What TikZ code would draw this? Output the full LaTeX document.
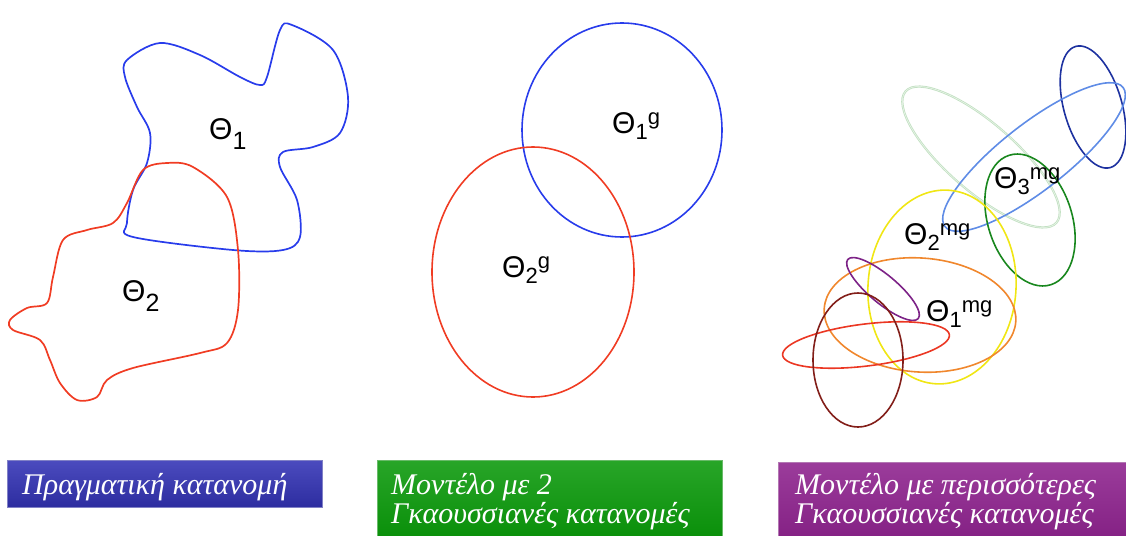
\documentclass[tikz,border=0pt]{standalone}
\usepackage{fontspec}
\setmainfont{Liberation Serif}
\newfontfamily\lsans{Liberation Sans}
\definecolor{bluecurve}{RGB}{40,60,235}
\definecolor{redcurve}{RGB}{240,60,35}
\definecolor{navyell}{RGB}{30,50,160}
\definecolor{paleell}{RGB}{195,225,195}
\definecolor{cornell}{RGB}{95,140,230}
\definecolor{greenell}{RGB}{25,135,30}
\definecolor{yellowell}{RGB}{240,230,20}
\definecolor{orangeell}{RGB}{240,135,45}
\definecolor{purpleell}{RGB}{125,35,135}
\definecolor{redell}{RGB}{235,55,35}
\definecolor{brownell}{RGB}{130,30,25}
\definecolor{boxblue}{RGB}{45,45,160}
\definecolor{boxbluetop}{RGB}{75,75,190}
\definecolor{boxgreen}{RGB}{5,140,5}
\definecolor{boxgreentop}{RGB}{40,165,40}
\definecolor{boxpurple}{RGB}{128,28,128}
\definecolor{boxpurpletop}{RGB}{155,60,155}
\newcommand{\ThetaLab}[4]{{\lsans\fontsize{30}{30}\selectfont Θ\raisebox{-#4}{\fontsize{#3}{#3}\selectfont #1}\raisebox{9pt}{\fontsize{22}{22}\selectfont #2}}}
\begin{document}
\begin{tikzpicture}[x=1pt,y=1pt,
  blob/.style={line width=1.7pt, line join=round},
  ell/.style={line width=1.6pt},
  lab/.style={anchor=base west, inner sep=0pt},
  boxtxt/.style={anchor=base west, inner sep=0pt, text=white, font=\itshape\fontsize{30}{29}\selectfont, align=left},
  panel/.style={anchor=north west, inner sep=0pt, draw=#1!60!white, line width=0.6pt},
]
\path[use as bounding box] (0,0) rectangle (1126,-535);

% ---- left: real distribution
\draw[blob, bluecurve] plot[smooth cycle, tension=0.55] coordinates {
 (127,-60) (160,-43) (200,-55) (240,-77) (260,-85) (267,-77) (280,-30) (292,-25)
 (333,-50) (348,-97) (340,-133) (313,-147) (283,-152) (280,-167) (297,-200)
 (300,-237) (283,-250) (233,-250) (133,-237) (127,-223) (133,-190) (147,-163)
 (150,-133) (137,-107) (125,-77)};
\draw[blob, redcurve] plot[smooth cycle, tension=0.55] coordinates {
 (143,-170) (167,-163) (193,-167) (227,-197) (238,-250) (238,-310) (227,-343)
 (200,-353) (133,-368) (107,-380) (97,-397) (77,-400) (60,-383) (50,-360)
 (40,-340) (13,-330) (10,-320) (27,-308) (47,-303) (53,-277) (63,-240)
 (87,-230) (113,-223) (127,-203)};
\node[lab] (t1) at (209,-139) {\ThetaLab{1}{}{25}{10pt}};
\node[lab] (t2) at (122,-301) {\ThetaLab{2}{}{25}{10pt}};

% ---- middle: two gaussians
\draw[ell, bluecurve] (622,-130) ellipse [x radius=100, y radius=107];
\draw[ell, redcurve] (533,-272) ellipse [x radius=101, y radius=125];
\node[lab] (g1) at (612,-133) {\ThetaLab{1}{g}{22}{6pt}};
\node[lab] (g2) at (502,-277) {\ThetaLab{2}{g}{22}{6pt}};

% ---- right: many gaussians
\draw[ell, paleell, line width=2.2pt] (981,-157) ellipse [x radius=100, y radius=34, rotate=-41];
\draw[ell, white!70!paleell, line width=0.5pt] (981,-157) ellipse [x radius=100, y radius=34, rotate=-41];
\draw[ell, navyell] (1093,-107) ellipse [x radius=63, y radius=29, rotate=-74];
\draw[ell, cornell] (1034,-157) ellipse [x radius=113, y radius=33, rotate=38];
\draw[ell, greenell] (1030,-220) ellipse [x radius=68, y radius=42, rotate=-72];
\draw[ell, yellowell] (942,-287) ellipse [x radius=74, y radius=97, rotate=-4];
\draw[ell, orangeell] (920,-315) ellipse [x radius=96, y radius=57, rotate=-4];
\draw[ell, purpleell] (883,-289) ellipse [x radius=46, y radius=14, rotate=-40];
\draw[ell, redell] (866,-345) ellipse [x radius=84, y radius=21, rotate=7];
\draw[ell, brownell] (858,-360) ellipse [x radius=45, y radius=67];
\node[lab] (m1) at (926,-321) {\ThetaLab{1}{mg}{22}{6pt}};
\node[lab] (m2) at (904,-244) {\ThetaLab{2}{mg}{22}{6pt}};
\node[lab] (m3) at (994,-188) {\ThetaLab{3}{mg}{22}{6pt}};

% ---- bottom panels
\node[panel=boxblue, top color=boxbluetop, bottom color=boxblue, minimum width=315, minimum height=47] (p1) at (7,-460) {};
\node[panel=boxgreen, top color=boxgreentop, bottom color=boxgreen, minimum width=345, minimum height=90] (p2) at (377,-460) {};
\node[panel=boxpurple, top color=boxpurpletop, bottom color=boxpurple, minimum width=350, minimum height=90] (p3) at (778,-462) {};
\node[boxtxt] (b1) at (22,-494) {Πραγματική κατανομή};
\node[boxtxt] (b2) at (391,-523) {Μοντέλο με 2\\Γκαουσσιανές κατανομές};
\node[boxtxt] (b3) at (795,-523) {Μοντέλο με περισσότερες\\Γκαουσσιανές κατανομές};
\end{tikzpicture}
\end{document}
